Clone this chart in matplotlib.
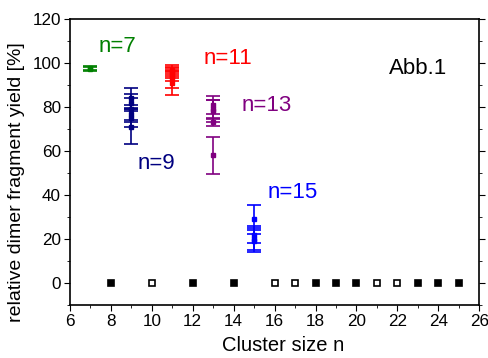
import matplotlib
matplotlib.use("Agg")
import matplotlib.pyplot as plt
from matplotlib.ticker import MultipleLocator

plt.rcParams['font.family'] = ['Liberation Sans', 'DejaVu Sans']

# n=7
n7_y = [97.8, 97.2]
n7_err = [1.0, 0.8]
# n=9
n9_y = [84, 82, 79, 77, 75, 71]
n9_err = [4.5, 4, 5, 4, 4, 8]
# n=11
n11_y = [97, 96, 95, 94, 93, 91]
n11_err = [2, 2, 2, 2, 4.5, 5.5]
# n=13
n13_y = [81, 79, 78, 73, 58]
n13_err = [4, 4, 5, 1.5, 8.5]
# n=15
n15_y = [29, 22, 20, 19]
n15_err = [6.5, 4, 5, 5]
# zero-yield sizes
zero_x = [8, 10, 12, 14, 16, 17, 18, 19, 20, 21, 22, 23, 24, 25]
zero_y = [0] * len(zero_x)
zero_filled = [True, False, True, True, False, False, True, True, True, False, False, True, True, True]

groups = [
    (7, n7_y, n7_err, '#008000', 'n=7', (8.3, 107.3)),
    (9, n9_y, n9_err, '#000080', 'n=9', (10.2, 54.5)),
    (11, n11_y, n11_err, '#FF0000', 'n=11', (13.7, 102)),
    (13, n13_y, n13_err, '#800080', 'n=13', (15.6, 80.5)),
    (15, n15_y, n15_err, '#0000FF', 'n=15', (16.9, 41)),
]

fig = plt.figure(figsize=(4.89, 3.58), dpi=100)
ax = fig.add_axes([0.143, 0.148, 0.837, 0.799])

for n, ys, errs, col, lab, pos in groups:
    ax.errorbar([n] * len(ys), ys, yerr=errs, fmt='s', color=col, ms=3.5,
                capsize=5, elinewidth=1.2, capthick=1.2, mfc=col, mec=col)
    ax.text(pos[0], pos[1], lab, color=col, fontsize=16, ha='center', va='center')

for x, y, f in zip(zero_x, zero_y, zero_filled):
    ax.plot(x, y, 's', color='black', ms=4, mfc='black' if f else 'white', mec='black', mew=1.2)

ax.text(23.0, 97.7, 'Abb.1', color='black', fontsize=16, ha='center', va='center')

ax.set_xlim(6, 26)
ax.set_ylim(-10, 120)
ax.xaxis.set_major_locator(MultipleLocator(2))
ax.xaxis.set_minor_locator(MultipleLocator(1))
ax.yaxis.set_major_locator(MultipleLocator(20))
ax.yaxis.set_minor_locator(MultipleLocator(10))
ax.tick_params(which='both', direction='out', labelsize=12.3, right=True, top=False, pad=2.5)
ax.tick_params(which='major', length=4)
ax.tick_params(which='minor', length=2.5)
for s in ax.spines.values():
    s.set_linewidth(1.2)
ax.set_xlabel('Cluster size n', fontsize=14.5)
ax.set_ylabel('relative dimer fragment yield [%]', fontsize=14)
ax.xaxis.set_label_coords(0.52, -0.14)
ax.yaxis.set_label_coords(-0.13, 0.43)
ax.xaxis.label.set_va('center')
ax.yaxis.label.set_va('center')

fig.savefig('out.png', dpi=100)
